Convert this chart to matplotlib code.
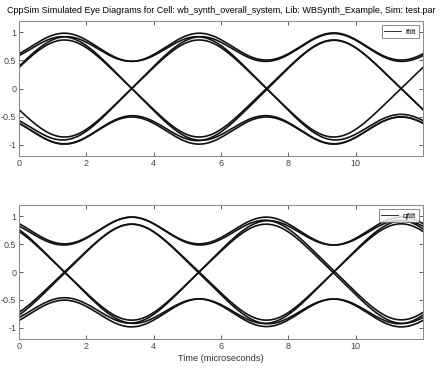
import numpy as np
import matplotlib.pyplot as plt

# eye diagram data: symbol sequences seen on the two channels
T = 4.0  # symbol period (microseconds)
window = 12.0  # trace length (microseconds)
ifilt_bits = [1, -1, -1,
              1, 1, 1, 1, 1, -1, -1, 1, 1, 1, -1, -1,
              -1, -1, -1, -1, -1, 1, -1, 1, -1, 1, -1, 1,
              -1, 1, 1]
qfilt_bits = [-1, 1, 1,
              -1, -1, -1, 1, -1, 1, -1, 1, -1, -1, 1, 1,
              1, 1, -1, 1, -1, -1, -1, -1, 1, 1, 1, 1,
              -1, 1, -1]
ifilt_phase = 1.35  # eye centre inside the window
qfilt_phase = 3.35
xticks = [0, 2, 4, 6, 8, 10]
yticks = [-1, -0.5, 0, 0.5, 1]
yticklabels = ['-1', '-0.5', '0', '0.5', '1']

title = ('CppSim Simulated Eye Diagrams for Cell: wb_synth_overall_system, '
         'Lib: WBSynth_Example, Sim: test.par')

# receive pulse shape (main lobe + slow tail that gives the ISI spread)
gain = 0.92
sig_main, sig_tail, tail = 1.15, 3.2, 0.07


def pulse(t):
    return gain * ((1 - tail) * np.exp(-t**2 / (2 * sig_main**2))
                   + tail * np.exp(-t**2 / (2 * sig_tail**2)))


def eye_traces(bits, phase):
    t = np.linspace(0, window, 600)
    b = np.array(bits, dtype=float)
    traces = []
    for start in range(3, len(b) - 3, 3):
        centers = phase + (np.arange(len(b)) - start) * T
        traces.append((b[:, None] * pulse(t[None, :] - centers[:, None])).sum(axis=0))
    return t, traces


plt.rcParams['font.family'] = ['Liberation Sans', 'DejaVu Sans']
fig = plt.figure(figsize=(4.41, 3.71), dpi=100)
ax1 = fig.add_axes([19 / 441, 1 - 156 / 371, 404 / 441, 135 / 371])
ax2 = fig.add_axes([19 / 441, 1 - 339 / 371, 404 / 441, 134 / 371])

for ax, bits, phase, name in [(ax1, ifilt_bits, ifilt_phase, 'ifilt'),
                              (ax2, qfilt_bits, qfilt_phase, 'qfilt')]:
    t, traces = eye_traces(bits, phase)
    for i, s in enumerate(traces):
        ax.plot(t, s, color='#111111', lw=1.2, label=name if i == 0 else None)
    ax.set_xlim(0, window)
    ax.set_ylim(-1.2, 1.2)
    ax.set_xticks(xticks)
    ax.set_yticks(yticks)
    ax.set_yticklabels(yticklabels)
    ax.tick_params(direction='in', top=True, right=True, length=3, width=0.6,
                   labelsize=6.5, colors='#444444', pad=2)
    for sp in ax.spines.values():
        sp.set_color('#888888')
        sp.set_linewidth(0.7)
    leg = ax.legend(loc='upper right', fontsize=6, handlelength=2.0, frameon=True,
                    fancybox=False, borderpad=0.3, borderaxespad=0.5,
                    handletextpad=0.6)
    leg.get_frame().set_edgecolor('#555555')
    leg.get_frame().set_linewidth(0.6)
    for h in leg.get_lines():
        h.set_linewidth(0.6)

ax1.set_title(title, fontsize=6.5, pad=6)
ax2.set_xlabel('Time (microseconds)', fontsize=6.6, labelpad=2, color='#333333')

fig.savefig('out.png', dpi=100)
